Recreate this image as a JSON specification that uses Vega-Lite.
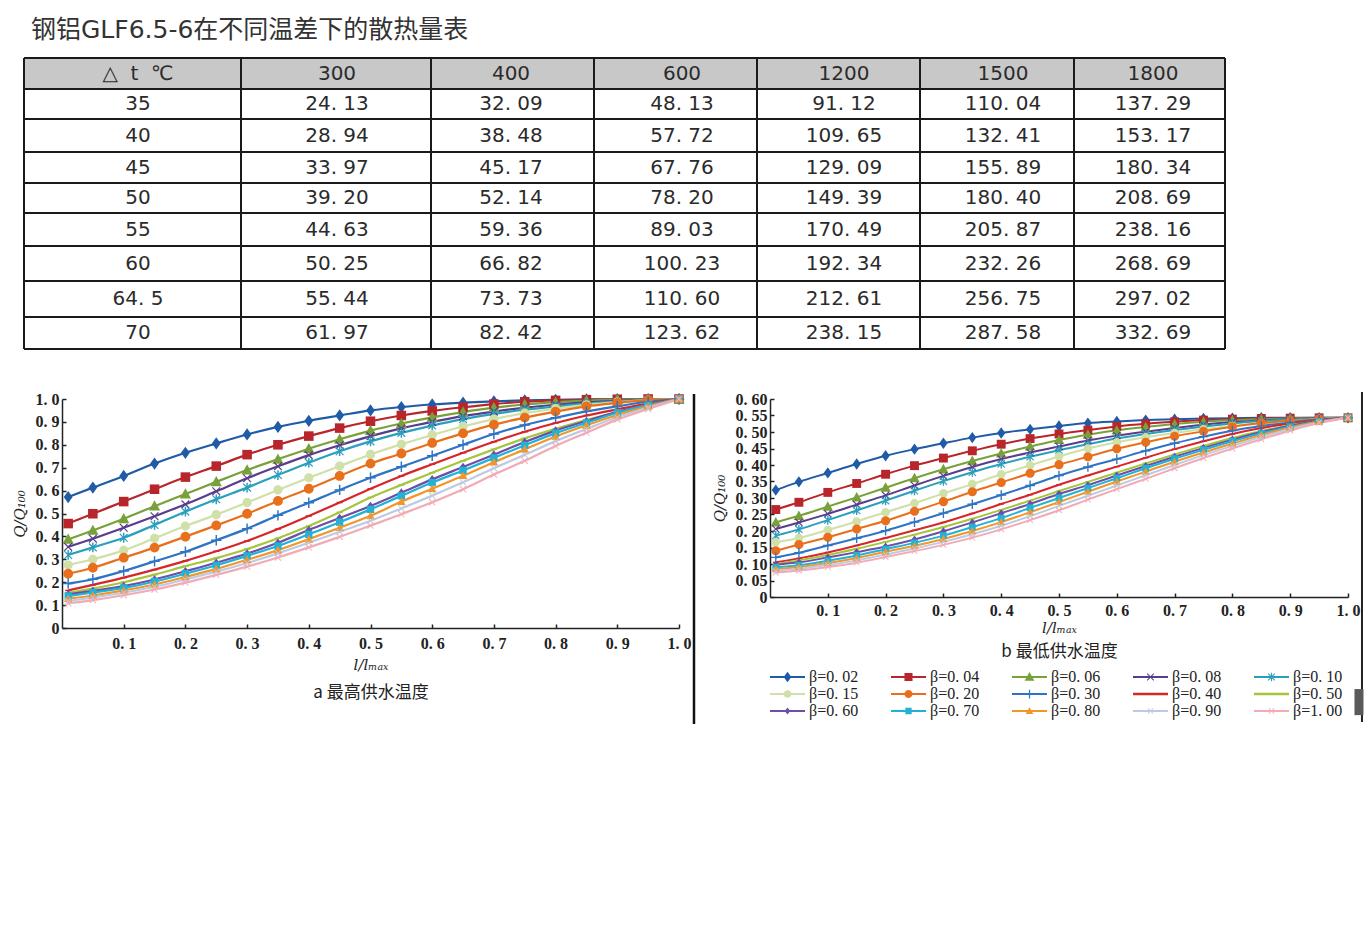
{
"$schema": "https://vega.github.io/schema/vega-lite/v6.json",
"background": "white",
"padding": {"left": 12, "top": 18, "right": 0, "bottom": 0},
"config": {"view": {"stroke": null}, "axis": {"grid": false, "labelOverlap": false}},
"resolve": {"scale": {"color": "independent", "shape": "independent"}},
"spacing": 41,
"datasets": {
"cells": [
{"r":0,"c":0,"t":"△\u00a0\u00a0t\u00a0\u00a0℃"},{"r":0,"c":1,"t":"300"},{"r":0,"c":2,"t":"400"},{"r":0,"c":3,"t":"600"},{"r":0,"c":4,"t":"1200"},{"r":0,"c":5,"t":"1500"},{"r":0,"c":6,"t":"1800"},
{"r":1,"c":0,"t":"35"},{"r":1,"c":1,"t":"24. 13"},{"r":1,"c":2,"t":"32. 09"},{"r":1,"c":3,"t":"48. 13"},{"r":1,"c":4,"t":"91. 12"},{"r":1,"c":5,"t":"110. 04"},{"r":1,"c":6,"t":"137. 29"},
{"r":2,"c":0,"t":"40"},{"r":2,"c":1,"t":"28. 94"},{"r":2,"c":2,"t":"38. 48"},{"r":2,"c":3,"t":"57. 72"},{"r":2,"c":4,"t":"109. 65"},{"r":2,"c":5,"t":"132. 41"},{"r":2,"c":6,"t":"153. 17"},
{"r":3,"c":0,"t":"45"},{"r":3,"c":1,"t":"33. 97"},{"r":3,"c":2,"t":"45. 17"},{"r":3,"c":3,"t":"67. 76"},{"r":3,"c":4,"t":"129. 09"},{"r":3,"c":5,"t":"155. 89"},{"r":3,"c":6,"t":"180. 34"},
{"r":4,"c":0,"t":"50"},{"r":4,"c":1,"t":"39. 20"},{"r":4,"c":2,"t":"52. 14"},{"r":4,"c":3,"t":"78. 20"},{"r":4,"c":4,"t":"149. 39"},{"r":4,"c":5,"t":"180. 40"},{"r":4,"c":6,"t":"208. 69"},
{"r":5,"c":0,"t":"55"},{"r":5,"c":1,"t":"44. 63"},{"r":5,"c":2,"t":"59. 36"},{"r":5,"c":3,"t":"89. 03"},{"r":5,"c":4,"t":"170. 49"},{"r":5,"c":5,"t":"205. 87"},{"r":5,"c":6,"t":"238. 16"},
{"r":6,"c":0,"t":"60"},{"r":6,"c":1,"t":"50. 25"},{"r":6,"c":2,"t":"66. 82"},{"r":6,"c":3,"t":"100. 23"},{"r":6,"c":4,"t":"192. 34"},{"r":6,"c":5,"t":"232. 26"},{"r":6,"c":6,"t":"268. 69"},
{"r":7,"c":0,"t":"64. 5"},{"r":7,"c":1,"t":"55. 44"},{"r":7,"c":2,"t":"73. 73"},{"r":7,"c":3,"t":"110. 60"},{"r":7,"c":4,"t":"212. 61"},{"r":7,"c":5,"t":"256. 75"},{"r":7,"c":6,"t":"297. 02"},
{"r":8,"c":0,"t":"70"},{"r":8,"c":1,"t":"61. 97"},{"r":8,"c":2,"t":"82. 42"},{"r":8,"c":3,"t":"123. 62"},{"r":8,"c":4,"t":"238. 15"},{"r":8,"c":5,"t":"287. 58"},{"r":8,"c":6,"t":"332. 69"}
],
"he": [{"e":0},{"e":1},{"e":2},{"e":3},{"e":4},{"e":5},{"e":6},{"e":7},{"e":8},{"e":9}],
"ve": [{"e":0},{"e":1},{"e":2},{"e":3},{"e":4},{"e":5},{"e":6},{"e":7}],
"ca": [
{"s":"β=0.02","x":0.01,"y":0.572},{"s":"β=0.02","x":0.05,"y":0.613},{"s":"β=0.02","x":0.1,"y":0.664},{"s":"β=0.02","x":0.15,"y":0.718},{"s":"β=0.02","x":0.2,"y":0.765},{"s":"β=0.02","x":0.25,"y":0.806},{"s":"β=0.02","x":0.3,"y":0.845},{"s":"β=0.02","x":0.35,"y":0.878},{"s":"β=0.02","x":0.4,"y":0.905},{"s":"β=0.02","x":0.45,"y":0.928},{"s":"β=0.02","x":0.5,"y":0.95},{"s":"β=0.02","x":0.55,"y":0.965},{"s":"β=0.02","x":0.6,"y":0.976},{"s":"β=0.02","x":0.65,"y":0.984},{"s":"β=0.02","x":0.7,"y":0.99},{"s":"β=0.02","x":0.75,"y":0.994},{"s":"β=0.02","x":0.8,"y":0.996},{"s":"β=0.02","x":0.85,"y":0.998},{"s":"β=0.02","x":0.9,"y":0.999},{"s":"β=0.02","x":0.95,"y":1},{"s":"β=0.02","x":1,"y":1},
{"s":"β=0.04","x":0.01,"y":0.456},{"s":"β=0.04","x":0.05,"y":0.499},{"s":"β=0.04","x":0.1,"y":0.552},{"s":"β=0.04","x":0.15,"y":0.606},{"s":"β=0.04","x":0.2,"y":0.659},{"s":"β=0.04","x":0.25,"y":0.707},{"s":"β=0.04","x":0.3,"y":0.757},{"s":"β=0.04","x":0.35,"y":0.8},{"s":"β=0.04","x":0.4,"y":0.838},{"s":"β=0.04","x":0.45,"y":0.873},{"s":"β=0.04","x":0.5,"y":0.903},{"s":"β=0.04","x":0.55,"y":0.928},{"s":"β=0.04","x":0.6,"y":0.948},{"s":"β=0.04","x":0.65,"y":0.964},{"s":"β=0.04","x":0.7,"y":0.978},{"s":"β=0.04","x":0.75,"y":0.988},{"s":"β=0.04","x":0.8,"y":0.994},{"s":"β=0.04","x":0.85,"y":0.997},{"s":"β=0.04","x":0.9,"y":0.999},{"s":"β=0.04","x":0.95,"y":1},{"s":"β=0.04","x":1,"y":1},
{"s":"β=0.06","x":0.01,"y":0.387},{"s":"β=0.06","x":0.05,"y":0.426},{"s":"β=0.06","x":0.1,"y":0.477},{"s":"β=0.06","x":0.15,"y":0.532},{"s":"β=0.06","x":0.2,"y":0.585},{"s":"β=0.06","x":0.25,"y":0.638},{"s":"β=0.06","x":0.3,"y":0.69},{"s":"β=0.06","x":0.35,"y":0.737},{"s":"β=0.06","x":0.4,"y":0.783},{"s":"β=0.06","x":0.45,"y":0.824},{"s":"β=0.06","x":0.5,"y":0.862},{"s":"β=0.06","x":0.55,"y":0.893},{"s":"β=0.06","x":0.6,"y":0.92},{"s":"β=0.06","x":0.65,"y":0.943},{"s":"β=0.06","x":0.7,"y":0.962},{"s":"β=0.06","x":0.75,"y":0.976},{"s":"β=0.06","x":0.8,"y":0.986},{"s":"β=0.06","x":0.85,"y":0.993},{"s":"β=0.06","x":0.9,"y":0.997},{"s":"β=0.06","x":0.95,"y":0.999},{"s":"β=0.06","x":1,"y":1},
{"s":"β=0.08","x":0.01,"y":0.354},{"s":"β=0.08","x":0.05,"y":0.39},{"s":"β=0.08","x":0.1,"y":0.438},{"s":"β=0.08","x":0.15,"y":0.488},{"s":"β=0.08","x":0.2,"y":0.54},{"s":"β=0.08","x":0.25,"y":0.597},{"s":"β=0.08","x":0.3,"y":0.654},{"s":"β=0.08","x":0.35,"y":0.706},{"s":"β=0.08","x":0.4,"y":0.755},{"s":"β=0.08","x":0.45,"y":0.798},{"s":"β=0.08","x":0.5,"y":0.838},{"s":"β=0.08","x":0.55,"y":0.872},{"s":"β=0.08","x":0.6,"y":0.9},{"s":"β=0.08","x":0.65,"y":0.925},{"s":"β=0.08","x":0.7,"y":0.945},{"s":"β=0.08","x":0.75,"y":0.962},{"s":"β=0.08","x":0.8,"y":0.975},{"s":"β=0.08","x":0.85,"y":0.985},{"s":"β=0.08","x":0.9,"y":0.992},{"s":"β=0.08","x":0.95,"y":0.997},{"s":"β=0.08","x":1,"y":1},
{"s":"β=0.10","x":0.01,"y":0.319},{"s":"β=0.10","x":0.05,"y":0.352},{"s":"β=0.10","x":0.1,"y":0.394},{"s":"β=0.10","x":0.15,"y":0.45},{"s":"β=0.10","x":0.2,"y":0.508},{"s":"β=0.10","x":0.25,"y":0.562},{"s":"β=0.10","x":0.3,"y":0.613},{"s":"β=0.10","x":0.35,"y":0.668},{"s":"β=0.10","x":0.4,"y":0.722},{"s":"β=0.10","x":0.45,"y":0.772},{"s":"β=0.10","x":0.5,"y":0.815},{"s":"β=0.10","x":0.55,"y":0.852},{"s":"β=0.10","x":0.6,"y":0.884},{"s":"β=0.10","x":0.65,"y":0.912},{"s":"β=0.10","x":0.7,"y":0.935},{"s":"β=0.10","x":0.75,"y":0.953},{"s":"β=0.10","x":0.8,"y":0.968},{"s":"β=0.10","x":0.85,"y":0.98},{"s":"β=0.10","x":0.9,"y":0.989},{"s":"β=0.10","x":0.95,"y":0.996},{"s":"β=0.10","x":1,"y":1},
{"s":"β=0.15","x":0.01,"y":0.275},{"s":"β=0.15","x":0.05,"y":0.3},{"s":"β=0.15","x":0.1,"y":0.339},{"s":"β=0.15","x":0.15,"y":0.392},{"s":"β=0.15","x":0.2,"y":0.445},{"s":"β=0.15","x":0.25,"y":0.495},{"s":"β=0.15","x":0.3,"y":0.548},{"s":"β=0.15","x":0.35,"y":0.603},{"s":"β=0.15","x":0.4,"y":0.656},{"s":"β=0.15","x":0.45,"y":0.707},{"s":"β=0.15","x":0.5,"y":0.758},{"s":"β=0.15","x":0.55,"y":0.802},{"s":"β=0.15","x":0.6,"y":0.843},{"s":"β=0.15","x":0.65,"y":0.88},{"s":"β=0.15","x":0.7,"y":0.912},{"s":"β=0.15","x":0.75,"y":0.938},{"s":"β=0.15","x":0.8,"y":0.958},{"s":"β=0.15","x":0.85,"y":0.974},{"s":"β=0.15","x":0.9,"y":0.986},{"s":"β=0.15","x":0.95,"y":0.995},{"s":"β=0.15","x":1,"y":1},
{"s":"β=0.20","x":0.01,"y":0.237},{"s":"β=0.20","x":0.05,"y":0.263},{"s":"β=0.20","x":0.1,"y":0.307},{"s":"β=0.20","x":0.15,"y":0.351},{"s":"β=0.20","x":0.2,"y":0.399},{"s":"β=0.20","x":0.25,"y":0.448},{"s":"β=0.20","x":0.3,"y":0.499},{"s":"β=0.20","x":0.35,"y":0.555},{"s":"β=0.20","x":0.4,"y":0.608},{"s":"β=0.20","x":0.45,"y":0.664},{"s":"β=0.20","x":0.5,"y":0.718},{"s":"β=0.20","x":0.55,"y":0.762},{"s":"β=0.20","x":0.6,"y":0.808},{"s":"β=0.20","x":0.65,"y":0.85},{"s":"β=0.20","x":0.7,"y":0.888},{"s":"β=0.20","x":0.75,"y":0.919},{"s":"β=0.20","x":0.8,"y":0.945},{"s":"β=0.20","x":0.85,"y":0.968},{"s":"β=0.20","x":0.9,"y":0.983},{"s":"β=0.20","x":0.95,"y":0.995},{"s":"β=0.20","x":1,"y":1},
{"s":"β=0.30","x":0.01,"y":0.194},{"s":"β=0.30","x":0.05,"y":0.213},{"s":"β=0.30","x":0.1,"y":0.249},{"s":"β=0.30","x":0.15,"y":0.291},{"s":"β=0.30","x":0.2,"y":0.333},{"s":"β=0.30","x":0.25,"y":0.383},{"s":"β=0.30","x":0.3,"y":0.434},{"s":"β=0.30","x":0.35,"y":0.492},{"s":"β=0.30","x":0.4,"y":0.547},{"s":"β=0.30","x":0.45,"y":0.603},{"s":"β=0.30","x":0.5,"y":0.656},{"s":"β=0.30","x":0.55,"y":0.704},{"s":"β=0.30","x":0.6,"y":0.752},{"s":"β=0.30","x":0.65,"y":0.8},{"s":"β=0.30","x":0.7,"y":0.847},{"s":"β=0.30","x":0.75,"y":0.886},{"s":"β=0.30","x":0.8,"y":0.918},{"s":"β=0.30","x":0.85,"y":0.946},{"s":"β=0.30","x":0.9,"y":0.968},{"s":"β=0.30","x":0.95,"y":0.988},{"s":"β=0.30","x":1,"y":1},
{"s":"β=0.40","x":0.01,"y":0.164},{"s":"β=0.40","x":0.05,"y":0.188},{"s":"β=0.40","x":0.1,"y":0.22},{"s":"β=0.40","x":0.15,"y":0.255},{"s":"β=0.40","x":0.2,"y":0.293},{"s":"β=0.40","x":0.25,"y":0.335},{"s":"β=0.40","x":0.3,"y":0.38},{"s":"β=0.40","x":0.35,"y":0.432},{"s":"β=0.40","x":0.4,"y":0.489},{"s":"β=0.40","x":0.45,"y":0.548},{"s":"β=0.40","x":0.5,"y":0.608},{"s":"β=0.40","x":0.55,"y":0.664},{"s":"β=0.40","x":0.6,"y":0.715},{"s":"β=0.40","x":0.65,"y":0.765},{"s":"β=0.40","x":0.7,"y":0.813},{"s":"β=0.40","x":0.75,"y":0.857},{"s":"β=0.40","x":0.8,"y":0.895},{"s":"β=0.40","x":0.85,"y":0.928},{"s":"β=0.40","x":0.9,"y":0.955},{"s":"β=0.40","x":0.95,"y":0.98},{"s":"β=0.40","x":1,"y":1},
{"s":"β=0.50","x":0.01,"y":0.153},{"s":"β=0.50","x":0.05,"y":0.172},{"s":"β=0.50","x":0.1,"y":0.2},{"s":"β=0.50","x":0.15,"y":0.233},{"s":"β=0.50","x":0.2,"y":0.27},{"s":"β=0.50","x":0.25,"y":0.305},{"s":"β=0.50","x":0.3,"y":0.345},{"s":"β=0.50","x":0.35,"y":0.392},{"s":"β=0.50","x":0.4,"y":0.445},{"s":"β=0.50","x":0.45,"y":0.505},{"s":"β=0.50","x":0.5,"y":0.57},{"s":"β=0.50","x":0.55,"y":0.625},{"s":"β=0.50","x":0.6,"y":0.678},{"s":"β=0.50","x":0.65,"y":0.73},{"s":"β=0.50","x":0.7,"y":0.78},{"s":"β=0.50","x":0.75,"y":0.828},{"s":"β=0.50","x":0.8,"y":0.87},{"s":"β=0.50","x":0.85,"y":0.908},{"s":"β=0.50","x":0.9,"y":0.943},{"s":"β=0.50","x":0.95,"y":0.974},{"s":"β=0.50","x":1,"y":1},
{"s":"β=0.60","x":0.01,"y":0.147},{"s":"β=0.60","x":0.05,"y":0.162},{"s":"β=0.60","x":0.1,"y":0.183},{"s":"β=0.60","x":0.15,"y":0.212},{"s":"β=0.60","x":0.2,"y":0.248},{"s":"β=0.60","x":0.25,"y":0.285},{"s":"β=0.60","x":0.3,"y":0.325},{"s":"β=0.60","x":0.35,"y":0.372},{"s":"β=0.60","x":0.4,"y":0.428},{"s":"β=0.60","x":0.45,"y":0.48},{"s":"β=0.60","x":0.5,"y":0.533},{"s":"β=0.60","x":0.55,"y":0.591},{"s":"β=0.60","x":0.6,"y":0.649},{"s":"β=0.60","x":0.65,"y":0.703},{"s":"β=0.60","x":0.7,"y":0.757},{"s":"β=0.60","x":0.75,"y":0.812},{"s":"β=0.60","x":0.8,"y":0.862},{"s":"β=0.60","x":0.85,"y":0.904},{"s":"β=0.60","x":0.9,"y":0.944},{"s":"β=0.60","x":0.95,"y":0.974},{"s":"β=0.60","x":1,"y":1},
{"s":"β=0.70","x":0.01,"y":0.14},{"s":"β=0.70","x":0.05,"y":0.155},{"s":"β=0.70","x":0.1,"y":0.175},{"s":"β=0.70","x":0.15,"y":0.203},{"s":"β=0.70","x":0.2,"y":0.237},{"s":"β=0.70","x":0.25,"y":0.274},{"s":"β=0.70","x":0.3,"y":0.315},{"s":"β=0.70","x":0.35,"y":0.358},{"s":"β=0.70","x":0.4,"y":0.409},{"s":"β=0.70","x":0.45,"y":0.462},{"s":"β=0.70","x":0.5,"y":0.518},{"s":"β=0.70","x":0.55,"y":0.577},{"s":"β=0.70","x":0.6,"y":0.635},{"s":"β=0.70","x":0.65,"y":0.688},{"s":"β=0.70","x":0.7,"y":0.743},{"s":"β=0.70","x":0.75,"y":0.798},{"s":"β=0.70","x":0.8,"y":0.851},{"s":"β=0.70","x":0.85,"y":0.896},{"s":"β=0.70","x":0.9,"y":0.94},{"s":"β=0.70","x":0.95,"y":0.973},{"s":"β=0.70","x":1,"y":1},
{"s":"β=0.80","x":0.01,"y":0.128},{"s":"β=0.80","x":0.05,"y":0.142},{"s":"β=0.80","x":0.1,"y":0.164},{"s":"β=0.80","x":0.15,"y":0.19},{"s":"β=0.80","x":0.2,"y":0.223},{"s":"β=0.80","x":0.25,"y":0.258},{"s":"β=0.80","x":0.3,"y":0.298},{"s":"β=0.80","x":0.35,"y":0.34},{"s":"β=0.80","x":0.4,"y":0.388},{"s":"β=0.80","x":0.45,"y":0.438},{"s":"β=0.80","x":0.5,"y":0.49},{"s":"β=0.80","x":0.55,"y":0.552},{"s":"β=0.80","x":0.6,"y":0.608},{"s":"β=0.80","x":0.65,"y":0.665},{"s":"β=0.80","x":0.7,"y":0.724},{"s":"β=0.80","x":0.75,"y":0.78},{"s":"β=0.80","x":0.8,"y":0.836},{"s":"β=0.80","x":0.85,"y":0.885},{"s":"β=0.80","x":0.9,"y":0.93},{"s":"β=0.80","x":0.95,"y":0.968},{"s":"β=0.80","x":1,"y":1},
{"s":"β=0.90","x":0.01,"y":0.118},{"s":"β=0.90","x":0.05,"y":0.133},{"s":"β=0.90","x":0.1,"y":0.154},{"s":"β=0.90","x":0.15,"y":0.18},{"s":"β=0.90","x":0.2,"y":0.212},{"s":"β=0.90","x":0.25,"y":0.246},{"s":"β=0.90","x":0.3,"y":0.284},{"s":"β=0.90","x":0.35,"y":0.326},{"s":"β=0.90","x":0.4,"y":0.372},{"s":"β=0.90","x":0.45,"y":0.42},{"s":"β=0.90","x":0.5,"y":0.468},{"s":"β=0.90","x":0.55,"y":0.522},{"s":"β=0.90","x":0.6,"y":0.578},{"s":"β=0.90","x":0.65,"y":0.636},{"s":"β=0.90","x":0.7,"y":0.698},{"s":"β=0.90","x":0.75,"y":0.756},{"s":"β=0.90","x":0.8,"y":0.816},{"s":"β=0.90","x":0.85,"y":0.869},{"s":"β=0.90","x":0.9,"y":0.92},{"s":"β=0.90","x":0.95,"y":0.962},{"s":"β=0.90","x":1,"y":1},
{"s":"β=1.00","x":0.01,"y":0.108},{"s":"β=1.00","x":0.05,"y":0.122},{"s":"β=1.00","x":0.1,"y":0.143},{"s":"β=1.00","x":0.15,"y":0.168},{"s":"β=1.00","x":0.2,"y":0.198},{"s":"β=1.00","x":0.25,"y":0.232},{"s":"β=1.00","x":0.3,"y":0.268},{"s":"β=1.00","x":0.35,"y":0.308},{"s":"β=1.00","x":0.4,"y":0.352},{"s":"β=1.00","x":0.45,"y":0.398},{"s":"β=1.00","x":0.5,"y":0.447},{"s":"β=1.00","x":0.55,"y":0.497},{"s":"β=1.00","x":0.6,"y":0.549},{"s":"β=1.00","x":0.65,"y":0.606},{"s":"β=1.00","x":0.7,"y":0.67},{"s":"β=1.00","x":0.75,"y":0.73},{"s":"β=1.00","x":0.8,"y":0.795},{"s":"β=1.00","x":0.85,"y":0.853},{"s":"β=1.00","x":0.9,"y":0.91},{"s":"β=1.00","x":0.95,"y":0.956},{"s":"β=1.00","x":1,"y":1}
],
"cb": [
{"s":"β=0.02","x":0.01,"y":0.324},{"s":"β=0.02","x":0.05,"y":0.349},{"s":"β=0.02","x":0.1,"y":0.376},{"s":"β=0.02","x":0.15,"y":0.403},{"s":"β=0.02","x":0.2,"y":0.428},{"s":"β=0.02","x":0.25,"y":0.448},{"s":"β=0.02","x":0.3,"y":0.466},{"s":"β=0.02","x":0.35,"y":0.483},{"s":"β=0.02","x":0.4,"y":0.497},{"s":"β=0.02","x":0.45,"y":0.508},{"s":"β=0.02","x":0.5,"y":0.518},{"s":"β=0.02","x":0.55,"y":0.527},{"s":"β=0.02","x":0.6,"y":0.532},{"s":"β=0.02","x":0.65,"y":0.536},{"s":"β=0.02","x":0.7,"y":0.539},{"s":"β=0.02","x":0.75,"y":0.541},{"s":"β=0.02","x":0.8,"y":0.542},{"s":"β=0.02","x":0.85,"y":0.543},{"s":"β=0.02","x":0.9,"y":0.543},{"s":"β=0.02","x":0.95,"y":0.543},{"s":"β=0.02","x":1,"y":0.543},
{"s":"β=0.04","x":0.01,"y":0.265},{"s":"β=0.04","x":0.05,"y":0.287},{"s":"β=0.04","x":0.1,"y":0.317},{"s":"β=0.04","x":0.15,"y":0.344},{"s":"β=0.04","x":0.2,"y":0.372},{"s":"β=0.04","x":0.25,"y":0.398},{"s":"β=0.04","x":0.3,"y":0.421},{"s":"β=0.04","x":0.35,"y":0.443},{"s":"β=0.04","x":0.4,"y":0.463},{"s":"β=0.04","x":0.45,"y":0.48},{"s":"β=0.04","x":0.5,"y":0.494},{"s":"β=0.04","x":0.55,"y":0.506},{"s":"β=0.04","x":0.6,"y":0.517},{"s":"β=0.04","x":0.65,"y":0.525},{"s":"β=0.04","x":0.7,"y":0.531},{"s":"β=0.04","x":0.75,"y":0.536},{"s":"β=0.04","x":0.8,"y":0.539},{"s":"β=0.04","x":0.85,"y":0.541},{"s":"β=0.04","x":0.9,"y":0.542},{"s":"β=0.04","x":0.95,"y":0.543},{"s":"β=0.04","x":1,"y":0.543},
{"s":"β=0.06","x":0.01,"y":0.226},{"s":"β=0.06","x":0.05,"y":0.246},{"s":"β=0.06","x":0.1,"y":0.274},{"s":"β=0.06","x":0.15,"y":0.302},{"s":"β=0.06","x":0.2,"y":0.331},{"s":"β=0.06","x":0.25,"y":0.36},{"s":"β=0.06","x":0.3,"y":0.387},{"s":"β=0.06","x":0.35,"y":0.412},{"s":"β=0.06","x":0.4,"y":0.435},{"s":"β=0.06","x":0.45,"y":0.456},{"s":"β=0.06","x":0.5,"y":0.476},{"s":"β=0.06","x":0.55,"y":0.492},{"s":"β=0.06","x":0.6,"y":0.505},{"s":"β=0.06","x":0.65,"y":0.515},{"s":"β=0.06","x":0.7,"y":0.524},{"s":"β=0.06","x":0.75,"y":0.531},{"s":"β=0.06","x":0.8,"y":0.536},{"s":"β=0.06","x":0.85,"y":0.539},{"s":"β=0.06","x":0.9,"y":0.541},{"s":"β=0.06","x":0.95,"y":0.542},{"s":"β=0.06","x":1,"y":0.543},
{"s":"β=0.08","x":0.01,"y":0.206},{"s":"β=0.08","x":0.05,"y":0.226},{"s":"β=0.08","x":0.1,"y":0.252},{"s":"β=0.08","x":0.15,"y":0.28},{"s":"β=0.08","x":0.2,"y":0.308},{"s":"β=0.08","x":0.25,"y":0.338},{"s":"β=0.08","x":0.3,"y":0.367},{"s":"β=0.08","x":0.35,"y":0.394},{"s":"β=0.08","x":0.4,"y":0.418},{"s":"β=0.08","x":0.45,"y":0.438},{"s":"β=0.08","x":0.5,"y":0.456},{"s":"β=0.08","x":0.55,"y":0.474},{"s":"β=0.08","x":0.6,"y":0.489},{"s":"β=0.08","x":0.65,"y":0.501},{"s":"β=0.08","x":0.7,"y":0.512},{"s":"β=0.08","x":0.75,"y":0.522},{"s":"β=0.08","x":0.8,"y":0.53},{"s":"β=0.08","x":0.85,"y":0.535},{"s":"β=0.08","x":0.9,"y":0.539},{"s":"β=0.08","x":0.95,"y":0.542},{"s":"β=0.08","x":1,"y":0.543},
{"s":"β=0.10","x":0.01,"y":0.186},{"s":"β=0.10","x":0.05,"y":0.205},{"s":"β=0.10","x":0.1,"y":0.233},{"s":"β=0.10","x":0.15,"y":0.262},{"s":"β=0.10","x":0.2,"y":0.292},{"s":"β=0.10","x":0.25,"y":0.322},{"s":"β=0.10","x":0.3,"y":0.351},{"s":"β=0.10","x":0.35,"y":0.378},{"s":"β=0.10","x":0.4,"y":0.403},{"s":"β=0.10","x":0.45,"y":0.425},{"s":"β=0.10","x":0.5,"y":0.445},{"s":"β=0.10","x":0.55,"y":0.463},{"s":"β=0.10","x":0.6,"y":0.48},{"s":"β=0.10","x":0.65,"y":0.494},{"s":"β=0.10","x":0.7,"y":0.506},{"s":"β=0.10","x":0.75,"y":0.517},{"s":"β=0.10","x":0.8,"y":0.526},{"s":"β=0.10","x":0.85,"y":0.533},{"s":"β=0.10","x":0.9,"y":0.538},{"s":"β=0.10","x":0.95,"y":0.541},{"s":"β=0.10","x":1,"y":0.543},
{"s":"β=0.15","x":0.01,"y":0.166},{"s":"β=0.15","x":0.05,"y":0.179},{"s":"β=0.15","x":0.1,"y":0.203},{"s":"β=0.15","x":0.15,"y":0.229},{"s":"β=0.15","x":0.2,"y":0.257},{"s":"β=0.15","x":0.25,"y":0.284},{"s":"β=0.15","x":0.3,"y":0.314},{"s":"β=0.15","x":0.35,"y":0.342},{"s":"β=0.15","x":0.4,"y":0.372},{"s":"β=0.15","x":0.45,"y":0.399},{"s":"β=0.15","x":0.5,"y":0.426},{"s":"β=0.15","x":0.55,"y":0.45},{"s":"β=0.15","x":0.6,"y":0.469},{"s":"β=0.15","x":0.65,"y":0.484},{"s":"β=0.15","x":0.7,"y":0.497},{"s":"β=0.15","x":0.75,"y":0.508},{"s":"β=0.15","x":0.8,"y":0.518},{"s":"β=0.15","x":0.85,"y":0.526},{"s":"β=0.15","x":0.9,"y":0.533},{"s":"β=0.15","x":0.95,"y":0.539},{"s":"β=0.15","x":1,"y":0.543},
{"s":"β=0.20","x":0.01,"y":0.14},{"s":"β=0.20","x":0.05,"y":0.159},{"s":"β=0.20","x":0.1,"y":0.181},{"s":"β=0.20","x":0.15,"y":0.206},{"s":"β=0.20","x":0.2,"y":0.231},{"s":"β=0.20","x":0.25,"y":0.26},{"s":"β=0.20","x":0.3,"y":0.289},{"s":"β=0.20","x":0.35,"y":0.319},{"s":"β=0.20","x":0.4,"y":0.347},{"s":"β=0.20","x":0.45,"y":0.375},{"s":"β=0.20","x":0.5,"y":0.401},{"s":"β=0.20","x":0.55,"y":0.425},{"s":"β=0.20","x":0.6,"y":0.449},{"s":"β=0.20","x":0.65,"y":0.469},{"s":"β=0.20","x":0.7,"y":0.487},{"s":"β=0.20","x":0.75,"y":0.502},{"s":"β=0.20","x":0.8,"y":0.516},{"s":"β=0.20","x":0.85,"y":0.527},{"s":"β=0.20","x":0.9,"y":0.534},{"s":"β=0.20","x":0.95,"y":0.539},{"s":"β=0.20","x":1,"y":0.543},
{"s":"β=0.30","x":0.01,"y":0.12},{"s":"β=0.30","x":0.05,"y":0.134},{"s":"β=0.30","x":0.1,"y":0.156},{"s":"β=0.30","x":0.15,"y":0.178},{"s":"β=0.30","x":0.2,"y":0.201},{"s":"β=0.30","x":0.25,"y":0.227},{"s":"β=0.30","x":0.3,"y":0.254},{"s":"β=0.30","x":0.35,"y":0.281},{"s":"β=0.30","x":0.4,"y":0.309},{"s":"β=0.30","x":0.45,"y":0.338},{"s":"β=0.30","x":0.5,"y":0.368},{"s":"β=0.30","x":0.55,"y":0.394},{"s":"β=0.30","x":0.6,"y":0.418},{"s":"β=0.30","x":0.65,"y":0.443},{"s":"β=0.30","x":0.7,"y":0.466},{"s":"β=0.30","x":0.75,"y":0.486},{"s":"β=0.30","x":0.8,"y":0.504},{"s":"β=0.30","x":0.85,"y":0.518},{"s":"β=0.30","x":0.9,"y":0.529},{"s":"β=0.30","x":0.95,"y":0.537},{"s":"β=0.30","x":1,"y":0.543},
{"s":"β=0.40","x":0.01,"y":0.105},{"s":"β=0.40","x":0.05,"y":0.117},{"s":"β=0.40","x":0.1,"y":0.135},{"s":"β=0.40","x":0.15,"y":0.156},{"s":"β=0.40","x":0.2,"y":0.179},{"s":"β=0.40","x":0.25,"y":0.202},{"s":"β=0.40","x":0.3,"y":0.226},{"s":"β=0.40","x":0.35,"y":0.253},{"s":"β=0.40","x":0.4,"y":0.282},{"s":"β=0.40","x":0.45,"y":0.31},{"s":"β=0.40","x":0.5,"y":0.34},{"s":"β=0.40","x":0.55,"y":0.368},{"s":"β=0.40","x":0.6,"y":0.395},{"s":"β=0.40","x":0.65,"y":0.422},{"s":"β=0.40","x":0.7,"y":0.448},{"s":"β=0.40","x":0.75,"y":0.472},{"s":"β=0.40","x":0.8,"y":0.494},{"s":"β=0.40","x":0.85,"y":0.512},{"s":"β=0.40","x":0.9,"y":0.526},{"s":"β=0.40","x":0.95,"y":0.536},{"s":"β=0.40","x":1,"y":0.543},
{"s":"β=0.50","x":0.01,"y":0.1},{"s":"β=0.50","x":0.05,"y":0.111},{"s":"β=0.50","x":0.1,"y":0.127},{"s":"β=0.50","x":0.15,"y":0.146},{"s":"β=0.50","x":0.2,"y":0.167},{"s":"β=0.50","x":0.25,"y":0.189},{"s":"β=0.50","x":0.3,"y":0.212},{"s":"β=0.50","x":0.35,"y":0.237},{"s":"β=0.50","x":0.4,"y":0.264},{"s":"β=0.50","x":0.45,"y":0.292},{"s":"β=0.50","x":0.5,"y":0.321},{"s":"β=0.50","x":0.55,"y":0.349},{"s":"β=0.50","x":0.6,"y":0.377},{"s":"β=0.50","x":0.65,"y":0.405},{"s":"β=0.50","x":0.7,"y":0.432},{"s":"β=0.50","x":0.75,"y":0.458},{"s":"β=0.50","x":0.8,"y":0.482},{"s":"β=0.50","x":0.85,"y":0.503},{"s":"β=0.50","x":0.9,"y":0.52},{"s":"β=0.50","x":0.95,"y":0.533},{"s":"β=0.50","x":1,"y":0.543},
{"s":"β=0.60","x":0.01,"y":0.098},{"s":"β=0.60","x":0.05,"y":0.105},{"s":"β=0.60","x":0.1,"y":0.12},{"s":"β=0.60","x":0.15,"y":0.136},{"s":"β=0.60","x":0.2,"y":0.153},{"s":"β=0.60","x":0.25,"y":0.174},{"s":"β=0.60","x":0.3,"y":0.199},{"s":"β=0.60","x":0.35,"y":0.226},{"s":"β=0.60","x":0.4,"y":0.254},{"s":"β=0.60","x":0.45,"y":0.282},{"s":"β=0.60","x":0.5,"y":0.312},{"s":"β=0.60","x":0.55,"y":0.339},{"s":"β=0.60","x":0.6,"y":0.368},{"s":"β=0.60","x":0.65,"y":0.397},{"s":"β=0.60","x":0.7,"y":0.425},{"s":"β=0.60","x":0.75,"y":0.452},{"s":"β=0.60","x":0.8,"y":0.477},{"s":"β=0.60","x":0.85,"y":0.5},{"s":"β=0.60","x":0.9,"y":0.519},{"s":"β=0.60","x":0.95,"y":0.534},{"s":"β=0.60","x":1,"y":0.543},
{"s":"β=0.70","x":0.01,"y":0.09},{"s":"β=0.70","x":0.05,"y":0.096},{"s":"β=0.70","x":0.1,"y":0.11},{"s":"β=0.70","x":0.15,"y":0.126},{"s":"β=0.70","x":0.2,"y":0.145},{"s":"β=0.70","x":0.25,"y":0.164},{"s":"β=0.70","x":0.3,"y":0.186},{"s":"β=0.70","x":0.35,"y":0.212},{"s":"β=0.70","x":0.4,"y":0.239},{"s":"β=0.70","x":0.45,"y":0.27},{"s":"β=0.70","x":0.5,"y":0.3},{"s":"β=0.70","x":0.55,"y":0.33},{"s":"β=0.70","x":0.6,"y":0.36},{"s":"β=0.70","x":0.65,"y":0.39},{"s":"β=0.70","x":0.7,"y":0.419},{"s":"β=0.70","x":0.75,"y":0.446},{"s":"β=0.70","x":0.8,"y":0.472},{"s":"β=0.70","x":0.85,"y":0.496},{"s":"β=0.70","x":0.9,"y":0.516},{"s":"β=0.70","x":0.95,"y":0.532},{"s":"β=0.70","x":1,"y":0.543},
{"s":"β=0.80","x":0.01,"y":0.085},{"s":"β=0.80","x":0.05,"y":0.091},{"s":"β=0.80","x":0.1,"y":0.103},{"s":"β=0.80","x":0.15,"y":0.118},{"s":"β=0.80","x":0.2,"y":0.137},{"s":"β=0.80","x":0.25,"y":0.155},{"s":"β=0.80","x":0.3,"y":0.176},{"s":"β=0.80","x":0.35,"y":0.2},{"s":"β=0.80","x":0.4,"y":0.227},{"s":"β=0.80","x":0.45,"y":0.257},{"s":"β=0.80","x":0.5,"y":0.288},{"s":"β=0.80","x":0.55,"y":0.319},{"s":"β=0.80","x":0.6,"y":0.35},{"s":"β=0.80","x":0.65,"y":0.38},{"s":"β=0.80","x":0.7,"y":0.41},{"s":"β=0.80","x":0.75,"y":0.438},{"s":"β=0.80","x":0.8,"y":0.465},{"s":"β=0.80","x":0.85,"y":0.491},{"s":"β=0.80","x":0.9,"y":0.513},{"s":"β=0.80","x":0.95,"y":0.531},{"s":"β=0.80","x":1,"y":0.543},
{"s":"β=0.90","x":0.01,"y":0.08},{"s":"β=0.90","x":0.05,"y":0.086},{"s":"β=0.90","x":0.1,"y":0.097},{"s":"β=0.90","x":0.15,"y":0.111},{"s":"β=0.90","x":0.2,"y":0.129},{"s":"β=0.90","x":0.25,"y":0.147},{"s":"β=0.90","x":0.3,"y":0.167},{"s":"β=0.90","x":0.35,"y":0.19},{"s":"β=0.90","x":0.4,"y":0.216},{"s":"β=0.90","x":0.45,"y":0.245},{"s":"β=0.90","x":0.5,"y":0.276},{"s":"β=0.90","x":0.55,"y":0.307},{"s":"β=0.90","x":0.6,"y":0.338},{"s":"β=0.90","x":0.65,"y":0.369},{"s":"β=0.90","x":0.7,"y":0.4},{"s":"β=0.90","x":0.75,"y":0.43},{"s":"β=0.90","x":0.8,"y":0.458},{"s":"β=0.90","x":0.85,"y":0.485},{"s":"β=0.90","x":0.9,"y":0.509},{"s":"β=0.90","x":0.95,"y":0.529},{"s":"β=0.90","x":1,"y":0.543},
{"s":"β=1.00","x":0.01,"y":0.074},{"s":"β=1.00","x":0.05,"y":0.08},{"s":"β=1.00","x":0.1,"y":0.091},{"s":"β=1.00","x":0.15,"y":0.104},{"s":"β=1.00","x":0.2,"y":0.121},{"s":"β=1.00","x":0.25,"y":0.139},{"s":"β=1.00","x":0.3,"y":0.158},{"s":"β=1.00","x":0.35,"y":0.18},{"s":"β=1.00","x":0.4,"y":0.205},{"s":"β=1.00","x":0.45,"y":0.233},{"s":"β=1.00","x":0.5,"y":0.263},{"s":"β=1.00","x":0.55,"y":0.295},{"s":"β=1.00","x":0.6,"y":0.327},{"s":"β=1.00","x":0.65,"y":0.358},{"s":"β=1.00","x":0.7,"y":0.39},{"s":"β=1.00","x":0.75,"y":0.421},{"s":"β=1.00","x":0.8,"y":0.45},{"s":"β=1.00","x":0.85,"y":0.478},{"s":"β=1.00","x":0.9,"y":0.504},{"s":"β=1.00","x":0.95,"y":0.527},{"s":"β=1.00","x":1,"y":0.543}
]
},
"vconcat": [
{
"width": 1163, "height": 291,
"title": {"text": "钢铝GLF6.5-6在不同温差下的散热量表", "anchor": "start", "dx": 8, "offset": -11, "fontSize": 25, "font": "DejaVu Sans, Noto Sans CJK SC", "fontWeight": "normal", "color": "#333333", "baseline": "bottom"},
"resolve": {"scale": {"x": "independent", "y": "independent"}},
"layer": [
{"data": {"values": [{"k": "header"}]}, "mark": {"type": "rect", "fill": "#c8c8c8"},
 "encoding": {
  "x": {"datum": 0, "type": "quantitative", "scale": {"domain": [0,1,2,3,4,5,6,7], "range": [-38,179,369,532,695,858,1012,1163], "nice": false, "zero": false}, "axis": null},
  "x2": {"datum": 7},
  "y": {"datum": 0, "type": "quantitative", "scale": {"domain": [0,1,2,3,4,5,6,7,8,9], "range": [0,31,61,94,125,155,188,223,259,291], "nice": false, "zero": false}, "axis": null},
  "y2": {"datum": 1}}},
{"data": {"name": "he"}, "mark": {"type": "rule", "color": "#1a1a1a", "strokeWidth": 2},
 "encoding": {
  "y": {"field": "e", "type": "quantitative", "scale": {"domain": [0,1,2,3,4,5,6,7,8,9], "range": [0,31,61,94,125,155,188,223,259,291], "nice": false, "zero": false}, "axis": null},
  "x": {"datum": 0, "type": "quantitative", "scale": {"domain": [0,1,2,3,4,5,6,7], "range": [-38,179,369,532,695,858,1012,1163], "nice": false, "zero": false}, "axis": null},
  "x2": {"datum": 7}}},
{"data": {"name": "ve"}, "mark": {"type": "rule", "color": "#1a1a1a", "strokeWidth": 2},
 "encoding": {
  "x": {"field": "e", "type": "quantitative", "scale": {"domain": [0,1,2,3,4,5,6,7], "range": [-38,179,369,532,695,858,1012,1163], "nice": false, "zero": false}, "axis": null},
  "y": {"datum": 0, "type": "quantitative", "scale": {"domain": [0,1,2,3,4,5,6,7,8,9], "range": [0,31,61,94,125,155,188,223,259,291], "nice": false, "zero": false}, "axis": null},
  "y2": {"datum": 9}}},
{"data": {"name": "cells"}, "mark": {"type": "text", "font": "DejaVu Sans", "fontSize": 20, "color": "#2b2b2b", "align": "center", "baseline": "middle"},
 "encoding": {
  "x": {"field": "c", "type": "quantitative", "scale": {"domain": [0,1,2,3,4,5,6], "range": [76,275,449,620,782,941,1091], "nice": false, "zero": false}, "axis": null},
  "y": {"field": "r", "type": "quantitative", "scale": {"domain": [0,1,2,3,4,5,6,7,8], "range": [15.5,46,77.5,109.5,140,171.5,205.5,241,275], "nice": false, "zero": false}, "axis": null},
  "text": {"field": "t", "type": "nominal"}}}
]
},
{
"hconcat": [
{
"width": 617, "height": 229,
"resolve": {"scale": {"x": "independent"}},
"layer": [
{"data": {"name": "ca"}, "mark": {"type": "line", "strokeWidth": 2.2, "interpolate": "monotone"},
 "encoding": {
  "x": {"field": "x", "type": "quantitative", "scale": {"domain": [0,1], "nice": false, "zero": false},
   "axis": {"values": [0.1,0.2,0.3,0.4,0.5,0.6,0.7,0.8,0.9,1], "tickCount": 20, "title": "l/lₘₐₓ", "titleFont": "DejaVu Serif", "titleFontStyle": "italic", "titleFontWeight": "normal", "titleFontSize": 15, "titleColor": "#222222", "titlePadding": 6, "labelFont": "Liberation Serif", "labelFontWeight": "bold", "labelFontSize": 16, "labelColor": "#222222", "labelExpr": "replace(format(datum.value, '.1f'), '.', '. ')", "tickSize": -4, "labelPadding": 11, "tickColor": "#222222", "tickWidth": 1.5, "domainColor": "#222222", "domainWidth": 1.5, "labelFlush": false, "labelOverlap": false}},
  "y": {"field": "y", "type": "quantitative", "scale": {"domain": [0,1], "nice": false, "zero": false},
   "axis": {"values": [0,0.1,0.2,0.3,0.4,0.5,0.6,0.7,0.8,0.9,1], "tickCount": 20, "title": "Q/Q₁₀₀", "titleFont": "DejaVu Serif", "titleFontStyle": "italic", "titleFontWeight": "normal", "titleFontSize": 15, "titleColor": "#222222", "titlePadding": 8, "labelFont": "Liberation Serif", "labelFontWeight": "bold", "labelFontSize": 16, "labelColor": "#222222", "labelExpr": "datum.value == 0 ? '0' : replace(format(datum.value, '.1f'), '.', '. ')", "tickSize": -4, "labelPadding": 7, "tickColor": "#222222", "tickWidth": 1.5, "domainColor": "#222222", "domainWidth": 1.5, "labelFlush": false, "labelOverlap": false}},
  "color": {"field": "s", "type": "nominal", "legend": null, "scale": {"domain": ["β=0.02","β=0.04","β=0.06","β=0.08","β=0.10","β=0.15","β=0.20","β=0.30","β=0.40","β=0.50","β=0.60","β=0.70","β=0.80","β=0.90","β=1.00"], "range": ["#1f5ba6","#b8252a","#78a13a","#5a3c8c","#2a9fbc","#cfe0a8","#e8701c","#2f74c4","#d6262a","#a4c63c","#6c4fa6","#22b2d6","#f2962c","#bccbe4","#f2aab4"]}}}},
{"data": {"name": "ca"}, "mark": {"type": "point", "filled": true, "size": 150, "opacity": 1},
 "encoding": {
  "x": {"field": "x", "type": "quantitative", "scale": {"domain": [0,1], "nice": false, "zero": false}, "axis": null},
  "y": {"field": "y", "type": "quantitative",
   "axis": {"values": [0,0.1,0.2,0.3,0.4,0.5,0.6,0.7,0.8,0.9,1], "tickCount": 20, "title": "Q/Q₁₀₀", "titleFont": "DejaVu Serif", "titleFontStyle": "italic", "titleFontWeight": "normal", "titleFontSize": 15, "titleColor": "#222222", "titlePadding": 8, "labelFont": "Liberation Serif", "labelFontWeight": "bold", "labelFontSize": 16, "labelColor": "#222222", "labelExpr": "datum.value == 0 ? '0' : replace(format(datum.value, '.1f'), '.', '. ')", "tickSize": -4, "labelPadding": 7, "tickColor": "#222222", "tickWidth": 1.5, "domainColor": "#222222", "domainWidth": 1.5, "labelFlush": false, "labelOverlap": false}},
  "color": {"field": "s", "type": "nominal", "legend": null},
  "shape": {"field": "s", "type": "nominal", "legend": null, "scale": {"domain": ["β=0.02","β=0.04","β=0.06","β=0.08","β=0.10","β=0.15","β=0.20","β=0.30","β=0.40","β=0.50","β=0.60","β=0.70","β=0.80","β=0.90","β=1.00"], "range": ["M0,-1L0.72,0L0,1L-0.72,0Z","M-0.78,-0.78H0.78V0.78H-0.78Z","M0,-0.95L0.92,0.72H-0.92Z","M-0.7,-0.56L-0.56,-0.7L0,-0.14L0.56,-0.7L0.7,-0.56L0.14,0L0.7,0.56L0.56,0.7L0,0.14L-0.56,0.7L-0.7,0.56L-0.14,0Z","M-0.7,-0.56L-0.56,-0.7L0,-0.14L0.56,-0.7L0.7,-0.56L0.14,0L0.7,0.56L0.56,0.7L0,0.14L-0.56,0.7L-0.7,0.56L-0.14,0ZM-0.12,-0.8H0.12V0.8H-0.12Z","M-0.75,0A0.75,0.75 0 1,1 0.75,0A0.75,0.75 0 1,1 -0.75,0Z","M-0.8,0A0.8,0.8 0 1,1 0.8,0A0.8,0.8 0 1,1 -0.8,0Z","M-0.85,-0.12H0.85V0.12H-0.85ZM-0.12,-0.85H0.12V0.85H-0.12Z","M-0.5,-0.12H0.5V0.12H-0.5Z","M-0.5,-0.13H0.5V0.13H-0.5Z","M0,-0.7L0.55,0L0,0.7L-0.55,0Z","M-0.6,-0.6H0.6V0.6H-0.6Z","M0,-0.7L0.7,0.55H-0.7Z","M-0.55,-0.44L-0.44,-0.55L0,-0.11L0.44,-0.55L0.55,-0.44L0.11,0L0.55,0.44L0.44,0.55L0,0.11L-0.44,0.55L-0.55,0.44L-0.11,0Z","M-0.56,-0.45L-0.45,-0.56L0,-0.11L0.45,-0.56L0.56,-0.45L0.11,0L0.56,0.45L0.45,0.56L0,0.11L-0.45,0.56L-0.56,0.45L-0.11,0Z"]}}}},
{"data": {"values": [{"k": "separator"}]}, "mark": {"type": "rule", "color": "#111111", "strokeWidth": 2.5},
 "encoding": {"x": {"datum": 1.0243, "type": "quantitative", "scale": {"domain": [0,1], "nice": false, "zero": false}, "axis": null},
  "y": {"datum": 1.022, "type": "quantitative",
   "axis": {"values": [0,0.1,0.2,0.3,0.4,0.5,0.6,0.7,0.8,0.9,1], "tickCount": 20, "title": "Q/Q₁₀₀", "titleFont": "DejaVu Serif", "titleFontStyle": "italic", "titleFontWeight": "normal", "titleFontSize": 15, "titleColor": "#222222", "titlePadding": 8, "labelFont": "Liberation Serif", "labelFontWeight": "bold", "labelFontSize": 16, "labelColor": "#222222", "labelExpr": "datum.value == 0 ? '0' : replace(format(datum.value, '.1f'), '.', '. ')", "tickSize": -4, "labelPadding": 7, "tickColor": "#222222", "tickWidth": 1.5, "domainColor": "#222222", "domainWidth": 1.5, "labelFlush": false, "labelOverlap": false}},
  "y2": {"datum": -0.419}}},
{"data": {"values": []}, "mark": {"type": "point", "opacity": 0},
 "encoding": {"x": {"field": "x", "type": "quantitative", "scale": {"domain": [0,1], "nice": false, "zero": false},
   "axis": {"orient": "bottom", "offset": 56, "domain": false, "ticks": false, "labels": false, "grid": false, "title": "a 最高供水温度", "titleFont": "Noto Sans CJK SC", "titleFontSize": 17, "titleFontWeight": "normal", "titleColor": "#222222", "titlePadding": 0}}}}
]
},
{
"width": 578, "height": 198,
"resolve": {"scale": {"x": "independent", "color": "independent", "shape": "independent"}},
"layer": [
{"data": {"name": "cb"}, "mark": {"type": "line", "strokeWidth": 2, "interpolate": "monotone"},
 "encoding": {
  "x": {"field": "x", "type": "quantitative", "scale": {"domain": [0,1], "nice": false, "zero": false},
   "axis": {"values": [0.1,0.2,0.3,0.4,0.5,0.6,0.7,0.8,0.9,1], "tickCount": 20, "title": "l/lₘₐₓ", "titleFont": "DejaVu Serif", "titleFontStyle": "italic", "titleFontWeight": "normal", "titleFontSize": 15, "titleColor": "#222222", "titlePadding": 2, "labelFont": "Liberation Serif", "labelFontWeight": "bold", "labelFontSize": 16, "labelColor": "#222222", "labelExpr": "replace(format(datum.value, '.1f'), '.', '. ')", "tickSize": -4, "labelPadding": 9, "tickColor": "#222222", "tickWidth": 1.5, "domainColor": "#222222", "domainWidth": 1.5, "labelFlush": false, "labelOverlap": false}},
  "y": {"field": "y", "type": "quantitative", "scale": {"domain": [0,0.6], "nice": false, "zero": false},
   "axis": {"values": [0,0.05,0.1,0.15,0.2,0.25,0.3,0.35,0.4,0.45,0.5,0.55,0.6], "tickCount": 20, "title": "Q/Q₁₀₀", "titleFont": "DejaVu Serif", "titleFontStyle": "italic", "titleFontWeight": "normal", "titleFontSize": 15, "titleColor": "#222222", "titlePadding": 8, "labelFont": "Liberation Serif", "labelFontWeight": "bold", "labelFontSize": 16, "labelColor": "#222222", "labelExpr": "datum.value == 0 ? '0' : replace(format(datum.value, '.2f'), '.', '. ')", "tickSize": -4, "labelPadding": 7, "tickColor": "#222222", "tickWidth": 1.5, "domainColor": "#222222", "domainWidth": 1.5, "labelFlush": false, "labelOverlap": false}},
  "color": {"field": "s", "type": "nominal", "legend": null, "scale": {"domain": ["β=0.02","β=0.04","β=0.06","β=0.08","β=0.10","β=0.15","β=0.20","β=0.30","β=0.40","β=0.50","β=0.60","β=0.70","β=0.80","β=0.90","β=1.00"], "range": ["#1f5ba6","#b8252a","#78a13a","#5a3c8c","#2a9fbc","#cfe0a8","#e8701c","#2f74c4","#d6262a","#a4c63c","#6c4fa6","#22b2d6","#f2962c","#bccbe4","#f2aab4"]}}}},
{"data": {"name": "cb"}, "mark": {"type": "point", "filled": true, "size": 130, "opacity": 1},
 "encoding": {
  "x": {"field": "x", "type": "quantitative", "scale": {"domain": [0,1], "nice": false, "zero": false}, "axis": null},
  "y": {"field": "y", "type": "quantitative",
   "axis": {"values": [0,0.05,0.1,0.15,0.2,0.25,0.3,0.35,0.4,0.45,0.5,0.55,0.6], "tickCount": 20, "title": "Q/Q₁₀₀", "titleFont": "DejaVu Serif", "titleFontStyle": "italic", "titleFontWeight": "normal", "titleFontSize": 15, "titleColor": "#222222", "titlePadding": 8, "labelFont": "Liberation Serif", "labelFontWeight": "bold", "labelFontSize": 16, "labelColor": "#222222", "labelExpr": "datum.value == 0 ? '0' : replace(format(datum.value, '.2f'), '.', '. ')", "tickSize": -4, "labelPadding": 7, "tickColor": "#222222", "tickWidth": 1.5, "domainColor": "#222222", "domainWidth": 1.5, "labelFlush": false, "labelOverlap": false}},
  "color": {"field": "s", "type": "nominal", "legend": null, "scale": {"domain": ["β=0.02","β=0.04","β=0.06","β=0.08","β=0.10","β=0.15","β=0.20","β=0.30","β=0.40","β=0.50","β=0.60","β=0.70","β=0.80","β=0.90","β=1.00"], "range": ["#1f5ba6","#b8252a","#78a13a","#5a3c8c","#2a9fbc","#cfe0a8","#e8701c","#2f74c4","#d6262a","#a4c63c","#6c4fa6","#22b2d6","#f2962c","#bccbe4","#f2aab4"]}},
  "shape": {"field": "s", "type": "nominal", "legend": null, "scale": {"domain": ["β=0.02","β=0.04","β=0.06","β=0.08","β=0.10","β=0.15","β=0.20","β=0.30","β=0.40","β=0.50","β=0.60","β=0.70","β=0.80","β=0.90","β=1.00"], "range": ["M0,-1L0.72,0L0,1L-0.72,0Z","M-0.78,-0.78H0.78V0.78H-0.78Z","M0,-0.95L0.92,0.72H-0.92Z","M-0.7,-0.56L-0.56,-0.7L0,-0.14L0.56,-0.7L0.7,-0.56L0.14,0L0.7,0.56L0.56,0.7L0,0.14L-0.56,0.7L-0.7,0.56L-0.14,0Z","M-0.7,-0.56L-0.56,-0.7L0,-0.14L0.56,-0.7L0.7,-0.56L0.14,0L0.7,0.56L0.56,0.7L0,0.14L-0.56,0.7L-0.7,0.56L-0.14,0ZM-0.12,-0.8H0.12V0.8H-0.12Z","M-0.75,0A0.75,0.75 0 1,1 0.75,0A0.75,0.75 0 1,1 -0.75,0Z","M-0.8,0A0.8,0.8 0 1,1 0.8,0A0.8,0.8 0 1,1 -0.8,0Z","M-0.85,-0.12H0.85V0.12H-0.85ZM-0.12,-0.85H0.12V0.85H-0.12Z","M-0.5,-0.12H0.5V0.12H-0.5Z","M-0.5,-0.13H0.5V0.13H-0.5Z","M0,-0.7L0.55,0L0,0.7L-0.55,0Z","M-0.6,-0.6H0.6V0.6H-0.6Z","M0,-0.7L0.7,0.55H-0.7Z","M-0.55,-0.44L-0.44,-0.55L0,-0.11L0.44,-0.55L0.55,-0.44L0.11,0L0.55,0.44L0.44,0.55L0,0.11L-0.44,0.55L-0.55,0.44L-0.11,0Z","M-0.56,-0.45L-0.45,-0.56L0,-0.11L0.45,-0.56L0.56,-0.45L0.11,0L0.56,0.45L0.45,0.56L0,0.11L-0.45,0.56L-0.56,0.45L-0.11,0Z"]}}}},
{"data": {"values": []}, "mark": {"type": "point", "filled": true, "opacity": 1},
 "encoding": {
  "color": {"field": "s", "type": "nominal",
   "scale": {"domain": ["β=0.02","β=0.04","β=0.06","β=0.08","β=0.10","β=0.15","β=0.20","β=0.30","β=0.40","β=0.50","β=0.60","β=0.70","β=0.80","β=0.90","β=1.00"], "range": ["#1f5ba6","#b8252a","#78a13a","#5a3c8c","#2a9fbc","#cfe0a8","#e8701c","#2f74c4","#d6262a","#a4c63c","#6c4fa6","#22b2d6","#f2962c","#bccbe4","#f2aab4"]},
   "legend": {"orient": "none", "legendX": -1, "legendY": 271, "direction": "horizontal", "columns": 5, "title": null, "symbolSize": 1225, "clipHeight": 14, "rowPadding": 1, "columnPadding": 31, "labelOffset": 3, "labelFont": "Liberation Serif", "labelFontSize": 16, "labelColor": "#222222", "symbolOpacity": 1, "labelExpr": "replace(datum.label, '.', '. ')", "padding": 0, "gridAlign": "all"}},
  "shape": {"field": "s", "type": "nominal",
   "scale": {"domain": ["β=0.02","β=0.04","β=0.06","β=0.08","β=0.10","β=0.15","β=0.20","β=0.30","β=0.40","β=0.50","β=0.60","β=0.70","β=0.80","β=0.90","β=1.00"], "range": [
    "M-1,-0.06H1V0.06H-1ZM0,-0.3L0.22,0L0,0.3L-0.22,0Z",
    "M-1,-0.06H1V0.06H-1ZM-0.23,-0.23H0.23V0.23H-0.23Z",
    "M-1,-0.06H1V0.06H-1ZM0,-0.28L0.28,0.22H-0.28Z",
    "M-1,-0.06H1V0.06H-1ZM-0.21,-0.17L-0.17,-0.21L0,-0.04L0.17,-0.21L0.21,-0.17L0.04,0L0.21,0.17L0.17,0.21L0,0.04L-0.17,0.21L-0.21,0.17L-0.04,0Z",
    "M-1,-0.06H1V0.06H-1ZM-0.21,-0.17L-0.17,-0.21L0,-0.04L0.17,-0.21L0.21,-0.17L0.04,0L0.21,0.17L0.17,0.21L0,0.04L-0.17,0.21L-0.21,0.17L-0.04,0ZM-0.035,-0.24H0.035V0.24H-0.035Z",
    "M-1,-0.06H1V0.06H-1ZM-0.22,0A0.22,0.22 0 1,1 0.22,0A0.22,0.22 0 1,1 -0.22,0Z",
    "M-1,-0.06H1V0.06H-1ZM-0.23,0A0.23,0.23 0 1,1 0.23,0A0.23,0.23 0 1,1 -0.23,0Z",
    "M-1,-0.06H1V0.06H-1ZM-0.25,-0.035H0.25V0.035H-0.25ZM-0.035,-0.25H0.035V0.25H-0.035Z",
    "M-1,-0.075H1V0.075H-1Z",
    "M-1,-0.076H1V0.076H-1Z",
    "M-1,-0.06H1V0.06H-1ZM0,-0.2L0.16,0L0,0.2L-0.16,0Z",
    "M-1,-0.06H1V0.06H-1ZM-0.18,-0.18H0.18V0.18H-0.18Z",
    "M-1,-0.06H1V0.06H-1ZM0,-0.22L0.22,0.17H-0.22Z",
    "M-1,-0.06H1V0.06H-1ZM-0.165,-0.13L-0.13,-0.165L0,-0.035L0.13,-0.165L0.165,-0.13L0.035,0L0.165,0.13L0.13,0.165L0,0.035L-0.13,0.165L-0.165,0.13L-0.035,0Z",
    "M-1,-0.061H1V0.061H-1ZM-0.165,-0.13L-0.13,-0.165L0,-0.035L0.13,-0.165L0.165,-0.13L0.035,0L0.165,0.13L0.13,0.165L0,0.035L-0.13,0.165L-0.165,0.13L-0.035,0Z"]},
   "legend": {"orient": "none", "legendX": -1, "legendY": 271, "direction": "horizontal", "columns": 5, "title": null, "symbolSize": 1225, "clipHeight": 14, "rowPadding": 1, "columnPadding": 31, "labelOffset": 3, "labelFont": "Liberation Serif", "labelFontSize": 16, "labelColor": "#222222", "symbolOpacity": 1, "labelExpr": "replace(datum.label, '.', '. ')", "padding": 0, "gridAlign": "all"}}}},
{"data": {"values": [{"k": "border"}]}, "mark": {"type": "rule", "color": "#222222", "strokeWidth": 2},
 "encoding": {"x": {"datum": 1.0242, "type": "quantitative", "scale": {"domain": [0,1], "nice": false, "zero": false}, "axis": null},
  "y": {"datum": 0.621, "type": "quantitative",
   "axis": {"values": [0,0.05,0.1,0.15,0.2,0.25,0.3,0.35,0.4,0.45,0.5,0.55,0.6], "tickCount": 20, "title": "Q/Q₁₀₀", "titleFont": "DejaVu Serif", "titleFontStyle": "italic", "titleFontWeight": "normal", "titleFontSize": 15, "titleColor": "#222222", "titlePadding": 8, "labelFont": "Liberation Serif", "labelFontWeight": "bold", "labelFontSize": 16, "labelColor": "#222222", "labelExpr": "datum.value == 0 ? '0' : replace(format(datum.value, '.2f'), '.', '. ')", "tickSize": -4, "labelPadding": 7, "tickColor": "#222222", "tickWidth": 1.5, "domainColor": "#222222", "domainWidth": 1.5, "labelFlush": false, "labelOverlap": false}},
  "y2": {"datum": -0.379}}},
{"data": {"values": [{"k": "block"}]}, "mark": {"type": "rule", "color": "#5a5a5a", "strokeWidth": 9},
 "encoding": {"x": {"datum": 1.019, "type": "quantitative", "scale": {"domain": [0,1], "nice": false, "zero": false}, "axis": null},
  "y": {"datum": -0.279, "type": "quantitative",
   "axis": {"values": [0,0.05,0.1,0.15,0.2,0.25,0.3,0.35,0.4,0.45,0.5,0.55,0.6], "tickCount": 20, "title": "Q/Q₁₀₀", "titleFont": "DejaVu Serif", "titleFontStyle": "italic", "titleFontWeight": "normal", "titleFontSize": 15, "titleColor": "#222222", "titlePadding": 8, "labelFont": "Liberation Serif", "labelFontWeight": "bold", "labelFontSize": 16, "labelColor": "#222222", "labelExpr": "datum.value == 0 ? '0' : replace(format(datum.value, '.2f'), '.', '. ')", "tickSize": -4, "labelPadding": 7, "tickColor": "#222222", "tickWidth": 1.5, "domainColor": "#222222", "domainWidth": 1.5, "labelFlush": false, "labelOverlap": false}},
  "y2": {"datum": -0.358}}},
{"data": {"values": []}, "mark": {"type": "point", "opacity": 0},
 "encoding": {"x": {"field": "x", "type": "quantitative", "scale": {"domain": [0,1], "nice": false, "zero": false},
   "axis": {"orient": "bottom", "offset": 46, "domain": false, "ticks": false, "labels": false, "grid": false, "title": "b 最低供水温度", "titleFont": "Noto Sans CJK SC", "titleFontSize": 17, "titleFontWeight": "normal", "titleColor": "#222222", "titlePadding": 0}}}}
]
}
],
"spacing": 16,
"resolve": {"scale": {"color": "independent", "shape": "independent"}}
}
]
}
